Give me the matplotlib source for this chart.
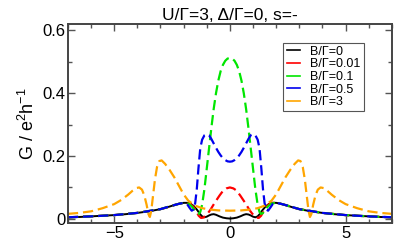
import numpy as np
import matplotlib
matplotlib.use("Agg")
import matplotlib.pyplot as plt
from matplotlib.lines import Line2D
from matplotlib.ticker import MultipleLocator

plt.rcParams['font.family'] = ['Liberation Sans', 'DejaVu Sans']
plt.rcParams['mathtext.fontset'] = 'custom'
plt.rcParams['mathtext.rm'] = 'Liberation Sans'
plt.rcParams['mathtext.it'] = 'Liberation Sans'
plt.rcParams['mathtext.bf'] = 'Liberation Sans'

# ---- data (left half, x <= 0; curves are symmetric in x) ----
x_black = [-7.0, -6.5, -6.0, -5.5, -5.0, -4.5, -4.0, -3.5, -3.0, -2.7, -2.4, -2.2, -2.0, -1.85,
           -1.7, -1.55, -1.4, -1.3, -1.2, -1.1, -1.0, -0.9, -0.8, -0.7, -0.6, -0.45, -0.3, -0.15, 0.0]
g_black = [0.005, 0.006, 0.008, 0.010, 0.012, 0.015, 0.019, 0.024, 0.031, 0.037, 0.044, 0.048, 0.051, 0.051,
           0.048, 0.040, 0.027, 0.016, 0.008, 0.005, 0.007, 0.011, 0.014, 0.015, 0.013, 0.008, 0.004, 0.002, 0.001]

x_red = [-7.0, -6.0, -5.0, -4.0, -3.0, -2.7, -2.4, -2.2, -2.0, -1.85, -1.7, -1.55, -1.45, -1.35, -1.25,
         -1.15, -1.05, -0.95, -0.85, -0.75, -0.65, -0.55, -0.45, -0.35, -0.25, -0.15, 0.0]
g_red = [0.005, 0.008, 0.012, 0.019, 0.031, 0.037, 0.044, 0.048, 0.051, 0.051, 0.047, 0.036, 0.024, 0.010, 0.003,
         0.004, 0.010, 0.018, 0.028, 0.040, 0.052, 0.063, 0.074, 0.084, 0.092, 0.097, 0.100]

x_green = [-7.0, -6.0, -5.0, -4.0, -3.0, -2.5, -2.2, -2.0, -1.8, -1.65, -1.5, -1.42, -1.35, -1.28, -1.2,
           -1.1, -1.0, -0.9, -0.8, -0.7, -0.6, -0.5, -0.4, -0.3, -0.2, -0.1, 0.0]
g_green = [0.005, 0.008, 0.012, 0.019, 0.031, 0.042, 0.048, 0.051, 0.049, 0.040, 0.026, 0.018, 0.016, 0.022, 0.045,
           0.095, 0.160, 0.225, 0.290, 0.350, 0.400, 0.440, 0.470, 0.490, 0.503, 0.510, 0.512]

x_blue = [-7.0, -6.0, -5.0, -4.0, -3.0, -2.5, -2.2, -2.0, -1.85, -1.75, -1.65, -1.57, -1.5, -1.43, -1.36,
          -1.28, -1.2, -1.1, -1.0, -0.9, -0.8, -0.7, -0.6, -0.5, -0.4, -0.3, -0.2, -0.1, 0.0]
g_blue = [0.005, 0.008, 0.012, 0.019, 0.031, 0.042, 0.048, 0.051, 0.047, 0.036, 0.026, 0.030, 0.050, 0.095, 0.160,
          0.225, 0.252, 0.266, 0.270, 0.266, 0.254, 0.240, 0.226, 0.213, 0.202, 0.193, 0.187, 0.183, 0.182]

x_orange = [-7.0, -6.5, -6.0, -5.5, -5.0, -4.7, -4.4, -4.2, -4.05, -3.92, -3.8, -3.7, -3.6, -3.52, -3.46,
            -3.4, -3.32, -3.24, -3.15, -3.05, -2.95, -2.8, -2.6, -2.4, -2.2, -2.0, -1.8, -1.5, -1.2, -0.9,
            -0.5, 0.0]
g_orange = [0.016, 0.019, 0.024, 0.034, 0.047, 0.060, 0.077, 0.090, 0.098, 0.100, 0.093, 0.075, 0.045, 0.015, 0.006,
            0.025, 0.075, 0.125, 0.165, 0.184, 0.186, 0.175, 0.155, 0.132, 0.105, 0.078, 0.058, 0.042, 0.034, 0.030,
            0.027, 0.026]

labels = ["B/\u0393=0", "B/\u0393=0.01", "B/\u0393=0.1", "B/\u0393=0.5", "B/\u0393=3"]
colors = ["black", "red", "#00e600", "#0000ee", "orange"]
styles = ["-", "--", "--", "--", "--"]
series = [(x_black, g_black), (x_red, g_red), (x_green, g_green), (x_blue, g_blue), (x_orange, g_orange)]


def mirror(x, y):
    x = np.asarray(x, float)
    y = np.asarray(y, float)
    xf = np.concatenate([x, -x[-2::-1]])
    yf = np.concatenate([y, y[-2::-1]])
    return xf, yf


fig = plt.figure(figsize=(3.95, 2.40), dpi=100)
ax = fig.add_axes([0.172, 0.071, 0.820, 0.829])

for (xs, ys), c, ls in zip(series, colors, styles):
    xf, yf = mirror(xs, ys)
    if ls == "-":
        ax.plot(xf, yf, color=c, lw=1.4, ls="-")
    else:
        ax.plot(xf, yf, color=c, lw=1.6, ls=(0, (4.6, 2.2)))

ax.set_xlim(-7, 7)
ax.set_ylim(-0.013, 0.62)
ax.xaxis.set_major_locator(MultipleLocator(5))
ax.xaxis.set_minor_locator(MultipleLocator(1))
ax.yaxis.set_minor_locator(MultipleLocator(0.1))
ax.set_yticks([0, 0.2, 0.4, 0.6])
ax.set_yticklabels(["0", "0.2", "0.4", "0.6"])
ax.tick_params(which="both", direction="in", top=True, right=True, color="#555555", labelsize=12, pad=2)
ax.tick_params(which="major", length=5, width=1)
ax.tick_params(which="minor", length=3, width=1)
for s in ax.spines.values():
    s.set_color("#444444")
    s.set_linewidth(1.4)

ax.set_title("U/\u0393=3, \u0394/\u0393=0, s=-", fontsize=12.5, pad=3)
ax.set_ylabel(r"G / e$^2$h$^{-1}$", fontsize=13, labelpad=3)

handles = [Line2D([0], [0], color=c, lw=1.2) for c in colors]
leg = ax.legend(handles, labels, loc="upper right", bbox_to_anchor=(0.925, 0.925), fontsize=9,
                frameon=True, fancybox=False, framealpha=1, edgecolor="#555555",
                handlelength=1.1, handletextpad=0.8, labelspacing=0.05, borderpad=0.25,
                borderaxespad=0.3)
leg.get_frame().set_linewidth(0.8)

fig.savefig("out.png", dpi=100)
